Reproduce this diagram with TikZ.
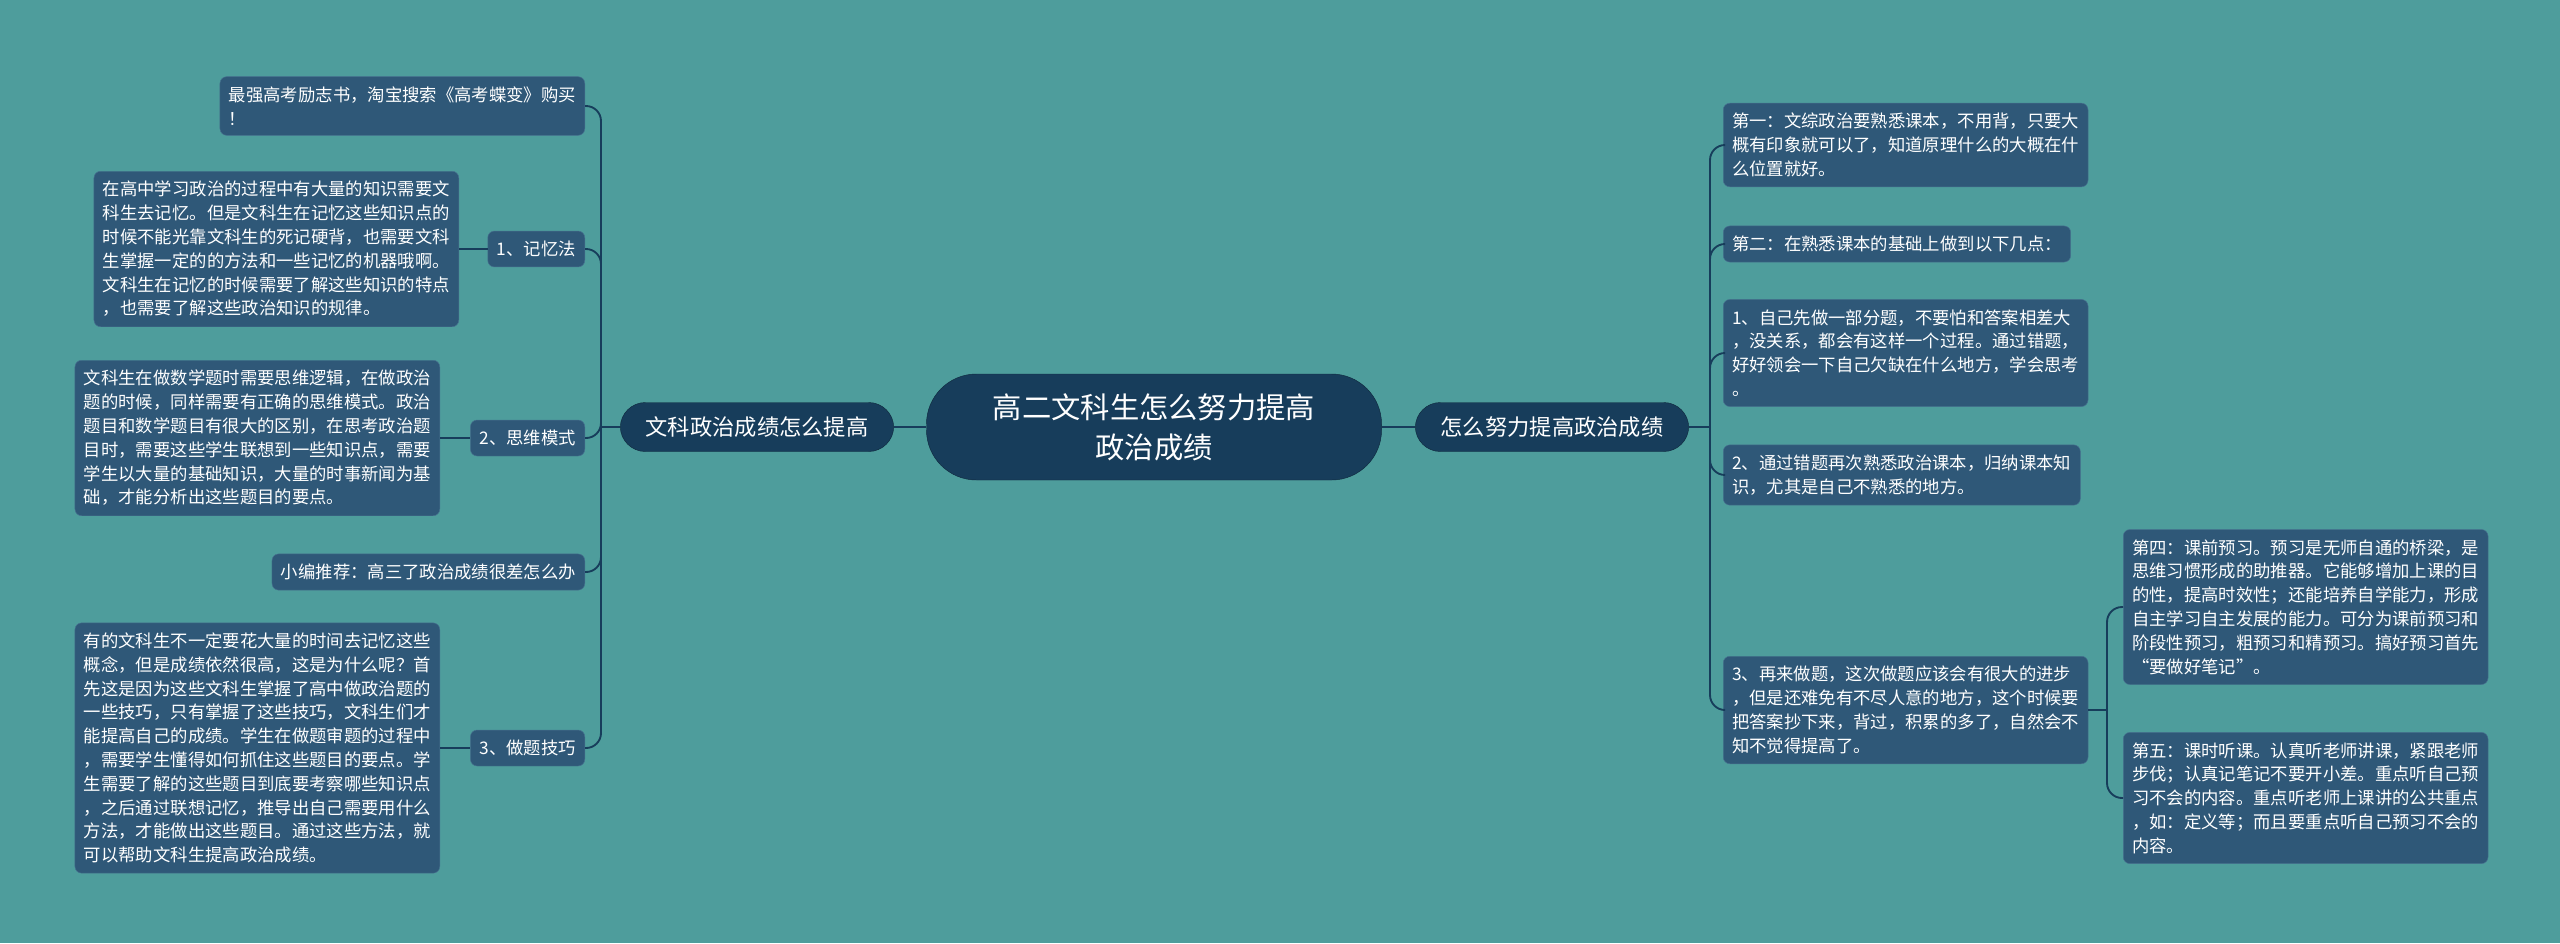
\documentclass[tikz,border=0pt]{standalone}
\usepackage{fontspec}
\setmainfont{Noto Sans CJK SC}
\usetikzlibrary{positioning}
\definecolor{bgteal}{HTML}{4E9D9C}
\definecolor{boxblue}{HTML}{2F5878}
\definecolor{boxedge}{HTML}{46708E}
\definecolor{deepblue}{HTML}{173D5B}
\tikzstyle{root} = [rectangle, rounded corners=1.5cm, minimum width=13.65cm, minimum height=3.18cm, align=center, fill=deepblue, draw=deepblue!70!black, text=white, font=\fontsize{25}{34}\selectfont]
\tikzstyle{branch} = [rectangle, rounded corners=0.75cm, minimum width=8.2cm, minimum height=1.47cm, align=center, fill=deepblue, draw=deepblue!70!black, text=white, font=\fontsize{19}{24}\selectfont]
\tikzstyle{leaf} = [rectangle, rounded corners=0.2cm, inner xsep=0.27cm, inner ysep=0.3cm, align=left, fill=boxblue, draw=boxedge, text=white, font=\fontsize{14.8}{20.3}\selectfont]
\tikzstyle{link} = [line width=1.6pt, draw=deepblue, rounded corners=0.45cm]

\begin{document}
\begin{tikzpicture}[x=0.03cm, y=-0.03cm]
\fill[bgteal] (0,0) rectangle (2560,943);
\useasboundingbox (0,0) rectangle (2560,943);

\node (root) [root] at (1154,427) {高二文科生怎么努力提高\\政治成绩};
\node (left) [branch] at (757,427) {文科政治成绩怎么提高};
\node (right) [branch] at (1552,427) {怎么努力提高政治成绩};
\draw [link] (root.west)--(left.east);
\draw [link] (root.east)--(right.west);

% left side
\coordinate (ltrunk) at (601,427);
\node (ad) [leaf, anchor=east] at (585,106) {最强高考励志书，淘宝搜索《高考蝶变》购买\\！};
\node (mem) [leaf, anchor=east] at (585,249) {1、记忆法};
\node (memtxt) [leaf, anchor=east] at (459,249) {在高中学习政治的过程中有大量的知识需要文\\科生去记忆。但是文科生在记忆这些知识点的\\时候不能光靠文科生的死记硬背，也需要文科\\生掌握一定的的方法和一些记忆的机器哦啊。\\文科生在记忆的时候需要了解这些知识的特点\\，也需要了解这些政治知识的规律。};
\node (think) [leaf, anchor=east] at (585,438) {2、思维模式};
\node (thinktxt) [leaf, anchor=east] at (440,438) {文科生在做数学题时需要思维逻辑，在做政治\\题的时候，同样需要有正确的思维模式。政治\\题目和数学题目有很大的区别，在思考政治题\\目时，需要这些学生联想到一些知识点，需要\\学生以大量的基础知识，大量的时事新闻为基\\础，才能分析出这些题目的要点。};
\node (rec) [leaf, anchor=east] at (585,572) {小编推荐：高三了政治成绩很差怎么办};
\node (skill) [leaf, anchor=east] at (585,748) {3、做题技巧};
\node (skilltxt) [leaf, anchor=east] at (440,748) {有的文科生不一定要花大量的时间去记忆这些\\概念，但是成绩依然很高，这是为什么呢？首\\先这是因为这些文科生掌握了高中做政治题的\\一些技巧，只有掌握了这些技巧，文科生们才\\能提高自己的成绩。学生在做题审题的过程中\\，需要学生懂得如何抓住这些题目的要点。学\\生需要了解的这些题目到底要考察哪些知识点\\，之后通过联想记忆，推导出自己需要用什么\\方法，才能做出这些题目。通过这些方法，就\\可以帮助文科生提高政治成绩。};
\draw [link] (left.west)--(ltrunk);
\foreach \n in {ad,mem,think,rec,skill}
  \draw [link] (ltrunk) |- (\n.east);
\draw [link] (memtxt.east)--(mem.west);
\draw [link] (thinktxt.east)--(think.west);
\draw [link] (skilltxt.east)--(skill.west);

% right side
\coordinate (rtrunk) at (1710,427);
\node (first) [leaf, anchor=west] at (1723,145) {第一：文综政治要熟悉课本，不用背，只要大\\概有印象就可以了，知道原理什么的大概在什\\么位置就好。};
\node (second) [leaf, anchor=west] at (1723,244) {第二：在熟悉课本的基础上做到以下几点：};
\node (stepa) [leaf, anchor=west] at (1723,353) {1、自己先做一部分题，不要怕和答案相差大\\，没关系，都会有这样一个过程。通过错题，\\好好领会一下自己欠缺在什么地方，学会思考\\。};
\node (stepb) [leaf, anchor=west] at (1723,475) {2、通过错题再次熟悉政治课本，归纳课本知\\识，尤其是自己不熟悉的地方。};
\node (stepc) [leaf, anchor=west] at (1723,710) {3、再来做题，这次做题应该会有很大的进步\\，但是还难免有不尽人意的地方，这个时候要\\把答案抄下来，背过，积累的多了，自然会不\\知不觉得提高了。};
\coordinate (ctrunk) at (2107,710);
\node (fourth) [leaf, anchor=west] at (2123,607) {第四：课前预习。预习是无师自通的桥梁，是\\思维习惯形成的助推器。它能够增加上课的目\\的性，提高时效性；还能培养自学能力，形成\\自主学习自主发展的能力。可分为课前预习和\\阶段性预习，粗预习和精预习。搞好预习首先\\“要做好笔记”。};
\node (fifth) [leaf, anchor=west] at (2123,798) {第五：课时听课。认真听老师讲课，紧跟老师\\步伐；认真记笔记不要开小差。重点听自己预\\习不会的内容。重点听老师上课讲的公共重点\\，如：定义等；而且要重点听自己预习不会的\\内容。};
\draw [link] (right.east)--(rtrunk);
\foreach \n in {first,second,stepa,stepb,stepc}
  \draw [link] (rtrunk) |- (\n.west);
\draw [link] (stepc.east)--(ctrunk);
\draw [link] (ctrunk) |- (fourth.west);
\draw [link] (ctrunk) |- (fifth.west);
\end{tikzpicture}
\end{document}
